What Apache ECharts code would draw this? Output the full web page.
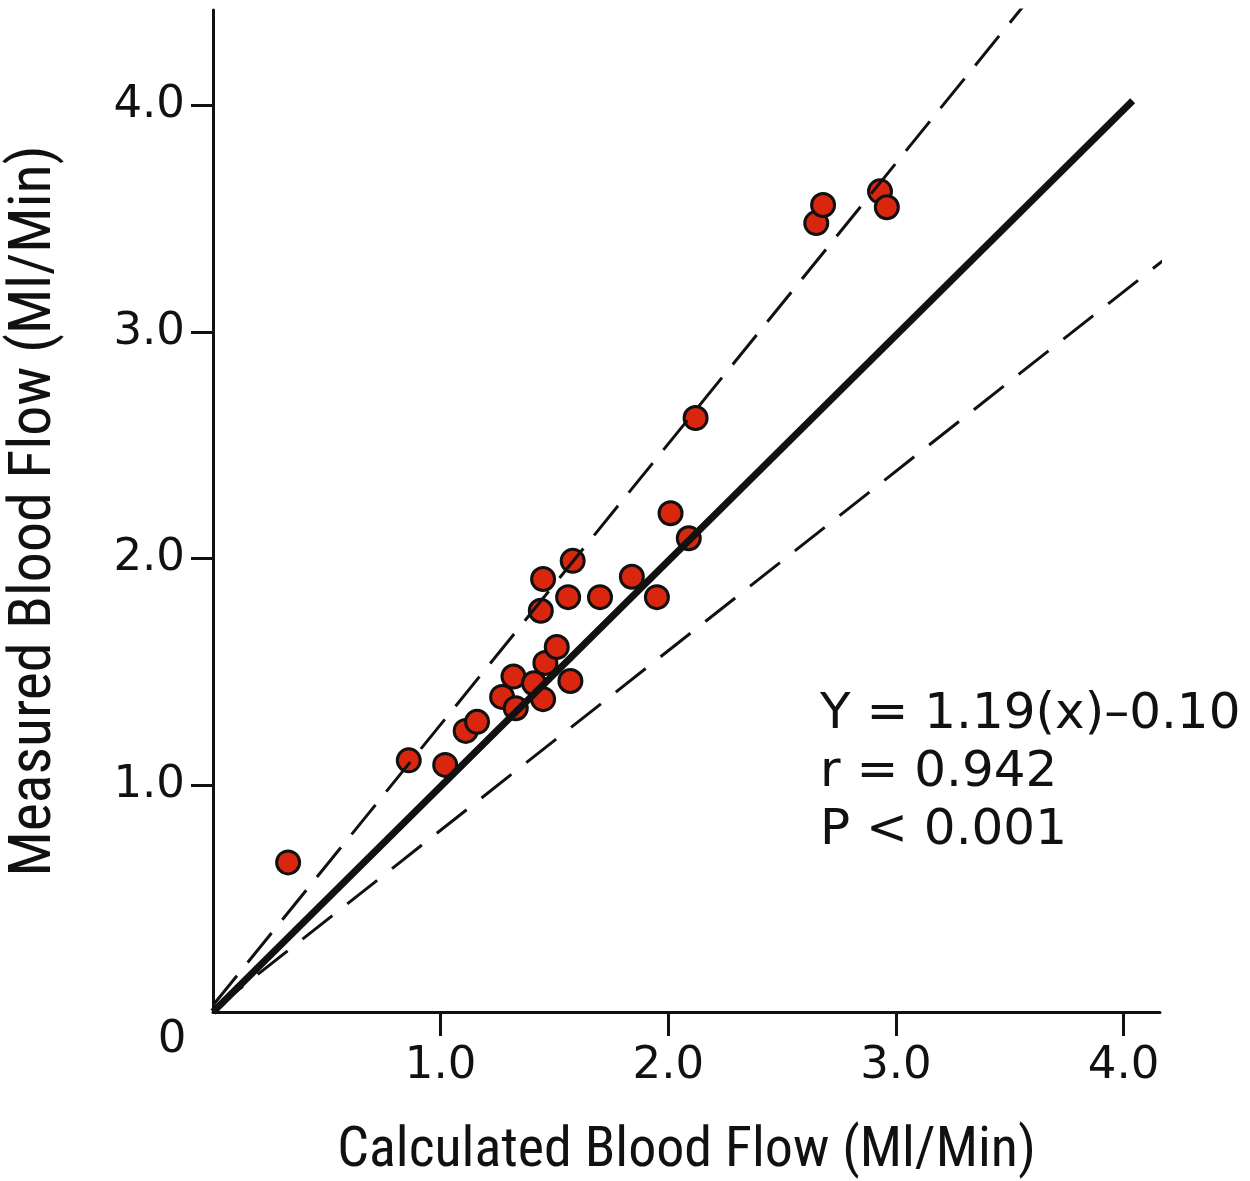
<!DOCTYPE html>
<html>
<head>
<meta charset="utf-8">
<script src="https://cdn.jsdelivr.net/npm/echarts@6/dist/echarts.min.js"></script>
<style>
  html, body { margin: 0; padding: 0; background: #fff; }
  #chart { width: 1250px; height: 1181px; }
</style>
</head>
<body>
<div id="chart"></div>
<script>
// calculated vs measured blood flow
const calculated = [0.33, 0.86, 1.02, 1.11, 1.16, 1.27, 1.32, 1.33, 1.41, 1.45, 1.46, 1.51, 1.57,
  1.44, 1.45, 1.56, 1.58, 1.70, 1.84, 1.95, 2.01, 2.09, 2.12, 2.65, 2.68, 2.93, 2.96];
const measured = [0.66, 1.11, 1.09, 1.24, 1.28, 1.39, 1.48, 1.34, 1.45, 1.38, 1.54, 1.61, 1.46,
  1.77, 1.91, 1.83, 1.99, 1.83, 1.92, 1.83, 2.20, 2.09, 2.62, 3.48, 3.56, 3.62, 3.55];

// reference lines (endpoints)
const identityLine = [[0, 0], [4.04, 4.02]];
const upperLine = [[0, 0.03], [3.57, 4.45]];
const lowerLine = [[0, 0.01], [4.18, 3.32]];

const tickValues = [1, 2, 3, 4];
const statsText = ['Y = 1.19(x)–0.10', 'r = 0.942', 'P < 0.001'];

const numFont = 'DejaVu Sans';
const titleFont = 'Liberation Sans Narrow, Arial Narrow, Roboto Condensed, sans-serif';

const chart = echarts.init(document.getElementById('chart'));

const points = calculated.map((x, i) => [x, measured[i]]);

chart.setOption({
  animation: false,
  grid: { left: 213, right: 90, top: 10, bottom: 169, outerBoundsMode: 'none', containLabel: false },
  xAxis: {
    type: 'value',
    min: 0,
    max: 4.16,
    interval: 1,
    splitLine: { show: false },
    axisLine: { lineStyle: { color: '#111', width: 3 } },
    axisTick: { customValues: tickValues, length: 24, lineStyle: { color: '#111', width: 3 } },
    axisLabel: {
      customValues: tickValues,
      formatter: v => v.toFixed(1),
      color: '#111', fontFamily: numFont, fontSize: 45, margin: 32
    },
    name: 'Calculated Blood Flow (Ml/Min)',
    nameLocation: 'middle',
    nameGap: 112,
    nameTextStyle: { color: '#111', fontFamily: titleFont, fontSize: 56 }
  },
  yAxis: {
    type: 'value',
    min: 0,
    max: 4.42,
    interval: 1,
    splitLine: { show: false },
    axisLine: { lineStyle: { color: '#111', width: 3 } },
    axisTick: { customValues: tickValues, length: 22, lineStyle: { color: '#111', width: 3 } },
    axisLabel: {
      customValues: tickValues,
      formatter: v => v.toFixed(1),
      color: '#111', fontFamily: numFont, fontSize: 45, margin: 28
    },
    name: 'Measured Blood Flow (Ml/Min)',
    nameLocation: 'middle',
    nameGap: 148,
    nameTextStyle: { color: '#111', fontFamily: titleFont, fontSize: 60 }
  },
  graphic: [
    {
      type: 'text', x: 172, y: 1040,
      style: { text: '0', fill: '#111', font: '45px ' + numFont, align: 'center', verticalAlign: 'middle' }
    },
    {
      type: 'text', left: 820, top: 686,
      style: {
        text: statsText.join('\n'), fill: '#111',
        font: '50px ' + numFont, lineHeight: 58
      }
    }
  ],
  series: [
    {
      type: 'line', data: upperLine, symbol: 'none', silent: true,
      lineStyle: { color: '#111', width: 3, type: [38, 17] }
    },
    {
      type: 'line', data: lowerLine, symbol: 'none', silent: true,
      lineStyle: { color: '#111', width: 3, type: [38, 19] }
    },
    {
      type: 'line', data: identityLine, symbol: 'none', silent: true,
      lineStyle: { color: '#111', width: 7 }
    },
    {
      type: 'scatter', data: points, symbolSize: 23,
      itemStyle: { color: '#d9260f', borderColor: '#111', borderWidth: 3, opacity: 1 }
    }
  ]
});
</script>
</body>
</html>
